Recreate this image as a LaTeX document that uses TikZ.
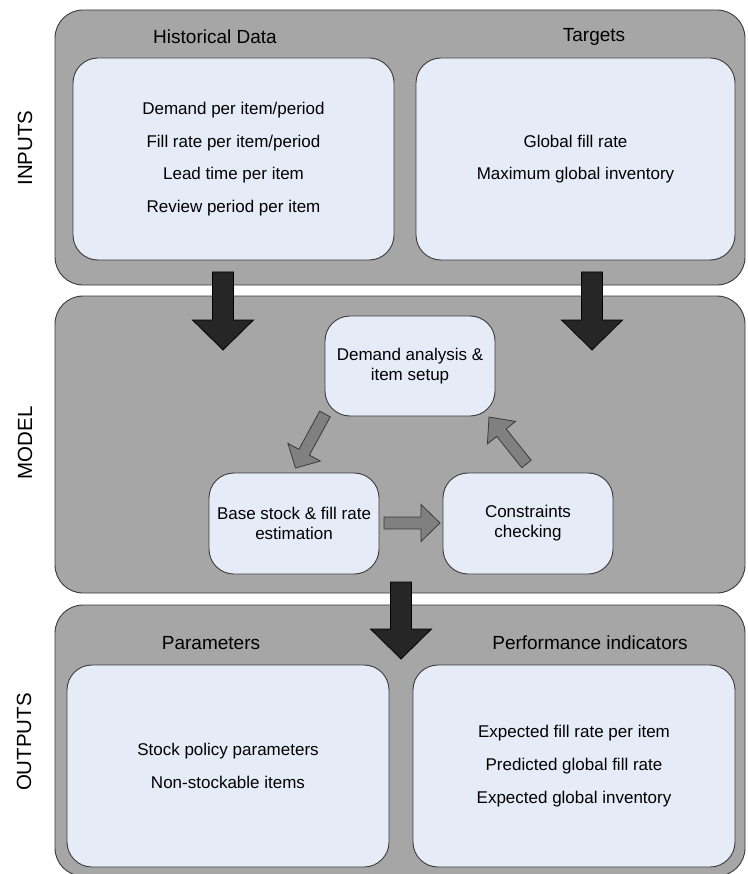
\documentclass[tikz,border=0pt]{standalone}
\usepackage{fontspec}
\setmainfont{Liberation Sans}
\usetikzlibrary{calc}
\definecolor{panelgray}{HTML}{A6A6A6}
\definecolor{boxblue}{HTML}{E6ECF7}
\definecolor{edgegray}{HTML}{3A3A3A}
\definecolor{darkarrow}{HTML}{262626}
\definecolor{midarrow}{HTML}{808080}
% #1 style, #2 tail coordinate, #3 tip coordinate, #4 half stem, #5 half head, #6 head length
\newcommand\blockarrow[6]{%
  \coordinate (#2-#3-h) at ($(#3)!#6!(#2)$);
  \draw[#1] ($(#2)!#4!90:(#3)$) -- ($(#2-#3-h)!#4!90:(#3)$) -- ($(#2-#3-h)!#5!90:(#3)$)
    -- (#3) -- ($(#2-#3-h)!#5!-90:(#3)$) -- ($(#2-#3-h)!#4!-90:(#3)$) -- ($(#2)!#4!-90:(#3)$) -- cycle;
}
\begin{document}
\begin{tikzpicture}[x=1pt,y=-1pt,
  panel/.style={draw=edgegray, line width=0.9pt, fill=panelgray, rounded corners=28pt,
    minimum width=690pt, inner sep=0pt},
  listbox/.style={draw=edgegray, line width=0.9pt, fill=boxblue, rounded corners=25pt,
    minimum height=202pt, inner sep=0pt, align=center, font=\fontsize{17}{32.5}\selectfont},
  outbox/.style={listbox, font=\fontsize{17}{33}\selectfont},
  stepbox/.style={draw=edgegray, line width=0.9pt, fill=boxblue, rounded corners=25pt,
    minimum width=170pt, minimum height=101pt, inner sep=0pt, align=center,
    font=\fontsize{17}{20}\selectfont},
  title/.style={font=\fontsize{19}{22}\selectfont, inner sep=0pt},
  sidelabel/.style={rotate=90, font=\fontsize{20.5}{24}\selectfont, inner sep=0pt},
  bigarrow/.style={draw=black, line width=0.8pt, fill=darkarrow},
  smallarrow/.style={draw=edgegray, line width=0.8pt, fill=midarrow}
]
\useasboundingbox (0,0) rectangle (747,874);

% panels
\node[panel, minimum height=275pt] (inputs) at (400,147.5) {};
\node[panel, minimum height=297pt] (model) at (400,444.5) {};
\node[panel, minimum height=271pt] (outputs) at (400,740.5) {};

% side labels
\node[sidelabel] (linputs) at (25,148) {INPUTS};
\node[sidelabel] (lmodel) at (25,443) {MODEL};
\node[sidelabel] (loutputs) at (24,742) {OUTPUTS};

% inputs
\node[title] (thist) at (215,37) {Historical Data};
\node[title] (ttarg) at (594,37) {Targets};
\node[listbox, minimum width=321pt] (hist) at (233.5,159)
  {Demand per item/period\\Fill rate per item/period\\Lead time per item\\Review period per item};
\node[listbox, minimum width=319pt] (targ) at (575.5,159)
  {Global fill rate\\Maximum global inventory};

% model
\node[stepbox, minimum height=100pt] (dem) at (410,366) {Demand analysis \&\\item setup};
\node[stepbox] (base) at (294,523.5) {Base stock \& fill rate\\estimation};
\node[stepbox] (cons) at (528,523.5) {Constraints\\checking};

% outputs
\node[title] (tpar) at (211,643) {Parameters};
\node[title] (tperf) at (590,643) {Performance indicators};
\node[outbox, minimum width=322pt] (par) at (228,766)
  {Stock policy parameters\\Non-stockable items};
\node[outbox, minimum width=322pt] (perf) at (574,766)
  {Expected fill rate per item\\Predicted global fill rate\\Expected global inventory};

% big arrows between panels
\coordinate (a1) at (223,272);  \coordinate (b1) at (223,350);
\coordinate (a2) at (592,272);  \coordinate (b2) at (592,350);
\coordinate (a3) at (401,582);  \coordinate (b3) at (401,659);
\blockarrow{bigarrow}{a1}{b1}{10.5pt}{30.5pt}{30pt}
\blockarrow{bigarrow}{a2}{b2}{10.5pt}{30.5pt}{30pt}
\blockarrow{bigarrow}{a3}{b3}{10.5pt}{30.5pt}{30pt}

% cycle arrows inside the model
\coordinate (c1) at (325,414);   \coordinate (d1) at (295.5,468);
\coordinate (c2) at (384,523);   \coordinate (d2) at (440,523);
\coordinate (c3) at (526.5,464); \coordinate (d3) at (489,417);
\blockarrow{smallarrow}{c1}{d1}{6pt}{18.5pt}{18pt}
\blockarrow{smallarrow}{c2}{d2}{6pt}{18.5pt}{19pt}
\blockarrow{smallarrow}{c3}{d3}{6pt}{18pt}{20pt}
\end{tikzpicture}
\end{document}
